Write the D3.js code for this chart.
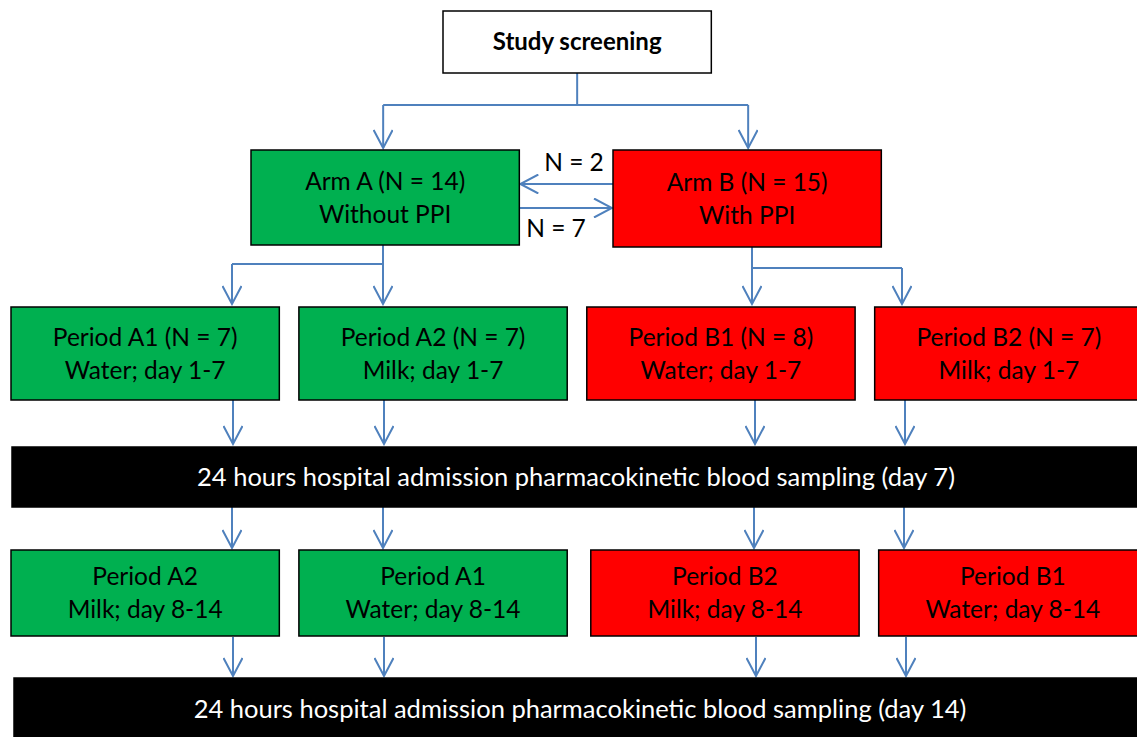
<!DOCTYPE html>
<html>
<head>
<meta charset="utf-8">
<script src="https://cdn.jsdelivr.net/npm/d3@7"></script>
<style>
  body { margin: 0; background: #fff; }
  svg { display: block; font-family: Lato, "Open Sans", sans-serif; }
</style>
</head>
<body>
<div id="chart"></div>
<script>
// ---- data ----
const screeningLabel = "Study screening";
const arms = ["A", "B"];
const armLines = [["Arm A (N = 14)", "Without PPI"], ["Arm B (N = 15)", "With PPI"]];
const crossovers = [
  { from: "B", to: "A", label: "N = 2" },
  { from: "A", to: "B", label: "N = 7" }
];
const columns = ["A1", "A2", "B1", "B2"];
const columnArm = ["A", "A", "B", "B"];
const firstPeriod = [
  ["Period A1 (N = 7)", "Water; day 1-7"],
  ["Period A2 (N = 7)", "Milk; day 1-7"],
  ["Period B1 (N = 8)", "Water; day 1-7"],
  ["Period B2 (N = 7)", "Milk; day 1-7"]
];
const secondPeriod = [
  ["Period A2", "Milk; day 8-14"],
  ["Period A1", "Water; day 8-14"],
  ["Period B2", "Milk; day 8-14"],
  ["Period B1", "Water; day 8-14"]
];
const samplingLabels = [
  "24 hours hospital admission pharmacokinetic blood sampling (day 7)",
  "24 hours hospital admission pharmacokinetic blood sampling (day 14)"
];

// ---- layout ----
const width = 1137, height = 737;
const colors = { A: "#00b050", B: "#ff0000" };
const lineColor = "#4f81bd";
const fs = 24.5;

const x = d3.scaleBand().domain(columns).range([11, 1143]).paddingInner(0.068);
const armX = d3.scaleOrdinal().domain(arms).range([251, 613]);
const arrowX = d3.scaleOrdinal().domain(columns).range([232, 383, 752, 902]);
const rows = {
  screen: [11, 73], arm: [150, 245], p1: [307, 400], bar1: [447, 507],
  p2: [550, 636], bar2: [678, 740]
};
const bw = x.bandwidth();

const svg = d3.select("#chart").append("svg")
    .attr("width", width)
    .attr("height", height);

svg.append("defs").append("marker")
    .attr("id", "head")
    .attr("viewBox", "-20 -10 22 20")
    .attr("refX", 0)
    .attr("refY", 0)
    .attr("markerWidth", 22)
    .attr("markerHeight", 20)
    .attr("markerUnits", "userSpaceOnUse")
    .attr("orient", "auto")
  .append("path")
    .attr("d", "M-18,-9.5L0,0L-18,9.5")
    .attr("fill", "none")
    .attr("stroke", lineColor)
    .attr("stroke-width", 2);

const lines = svg.append("g")
    .attr("fill", "none")
    .attr("stroke", lineColor)
    .attr("stroke-width", 2);

function seg(x1, y1, x2, y2, arrow) {
  lines.append("path")
      .attr("d", `M${x1},${y1}L${x2},${y2}`)
      .attr("marker-end", arrow ? "url(#head)" : null);
}

function box(x0, y0, w, y1, fill, textLines, opts = {}) {
  const g = svg.append("g");
  g.append("rect")
      .attr("x", x0).attr("y", y0)
      .attr("width", w).attr("height", y1 - y0)
      .attr("fill", fill)
      .attr("stroke", "#000")
      .attr("stroke-width", opts.stroke || 1.5);
  const cy = opts.cy != null ? opts.cy : (y0 + y1) / 2, n = textLines.length;
  g.selectAll("text")
    .data(textLines)
    .join("text")
      .attr("x", opts.cx != null ? opts.cx : x0 + w / 2)
      .attr("y", (d, i) => cy + (i - (n - 1) / 2) * 33)
      .attr("dy", "0.35em")
      .attr("text-anchor", "middle")
      .attr("fill", opts.color || "#000")
      .attr("font-size", opts.size || fs)
      .attr("font-weight", opts.weight || "normal")
      .text(d => d);
}

// screening
const scX = 443;
box(scX, rows.screen[0], bw, rows.screen[1], "#fff", [screeningLabel], { weight: "bold", size: 24 });
const scMid = scX + bw / 2;
const armMid = a => armX(a) + bw / 2 + (a === "A" ? -2 : 1);
seg(scMid, rows.screen[1], scMid, 105);
seg(armMid("A"), 105, armMid("B"), 105);
arms.forEach(a => seg(armMid(a), 105, armMid(a), 148, true));

// arms
arms.forEach((a, i) => box(armX(a), rows.arm[0], bw, rows.arm[1] + (a === "B" ? 2 : 0), colors[a], armLines[i]));

// crossovers
const crossY = [184, 208];
const labelY = [162, 228];
const labelX = [574, 556];
crossovers.forEach((c, i) => {
  const xf = c.from === "A" ? armX("A") + bw : armX("B");
  const xt = c.to === "A" ? armX("A") + bw + 1 : armX("B") - 1;
  seg(xf, crossY[i], xt, crossY[i], true);
  svg.append("text")
      .attr("x", labelX[i]).attr("y", labelY[i])
      .attr("dy", "0.35em")
      .attr("text-anchor", "middle")
      .attr("font-size", fs)
      .text(c.label);
});

// arm -> first period
const splitY = { A: 264, B: 268 };
const trunk = { A: arrowX("A2"), B: arrowX("B1") };
arms.forEach(a => {
  const cols = columns.filter((c, i) => columnArm[i] === a);
  seg(trunk[a], rows.arm[1] + (a === "B" ? 2 : 0), trunk[a], splitY[a]);
  seg(d3.min(cols, arrowX), splitY[a], d3.max(cols, arrowX), splitY[a]);
  cols.forEach(c => seg(arrowX(c), splitY[a], arrowX(c), 304, true));
});

// first period boxes
columns.forEach((c, i) => box(x(c), rows.p1[0], bw, rows.p1[1], colors[columnArm[i]], firstPeriod[i]));

// arrows to/from sampling bars
columns.forEach(c => {
  const off = c[0] === "B";
  seg(arrowX(c) + (off ? 3 : 1), rows.p1[1], arrowX(c) + (off ? 3 : 1), rows.bar1[0] - 3, true);
  seg(arrowX(c) + (off ? 2 : 0), rows.bar1[1], arrowX(c) + (off ? 2 : 0), rows.p2[0] - 2, true);
  seg(arrowX(c) + (off ? 4 : 1), rows.p2[1] + 1, arrowX(c) + (off ? 4 : 1), rows.bar2[0] - 2, true);
});

// sampling bars
box(12, rows.bar1[0], width, rows.bar1[1], "#000", [samplingLabels[0]], { color: "#fff", cx: 576, size: 25.5 });
box(14, rows.bar2[0], width, rows.bar2[1], "#000", [samplingLabels[1]], { color: "#fff", cx: 580, size: 25.5, cy: 709 });

// second period boxes
const p2Shift = [0, 0, 4, 4];
columns.forEach((c, i) => box(x(c) + p2Shift[i], rows.p2[0], bw, rows.p2[1], colors[columnArm[i]], secondPeriod[i]));
</script>
</body>
</html>
